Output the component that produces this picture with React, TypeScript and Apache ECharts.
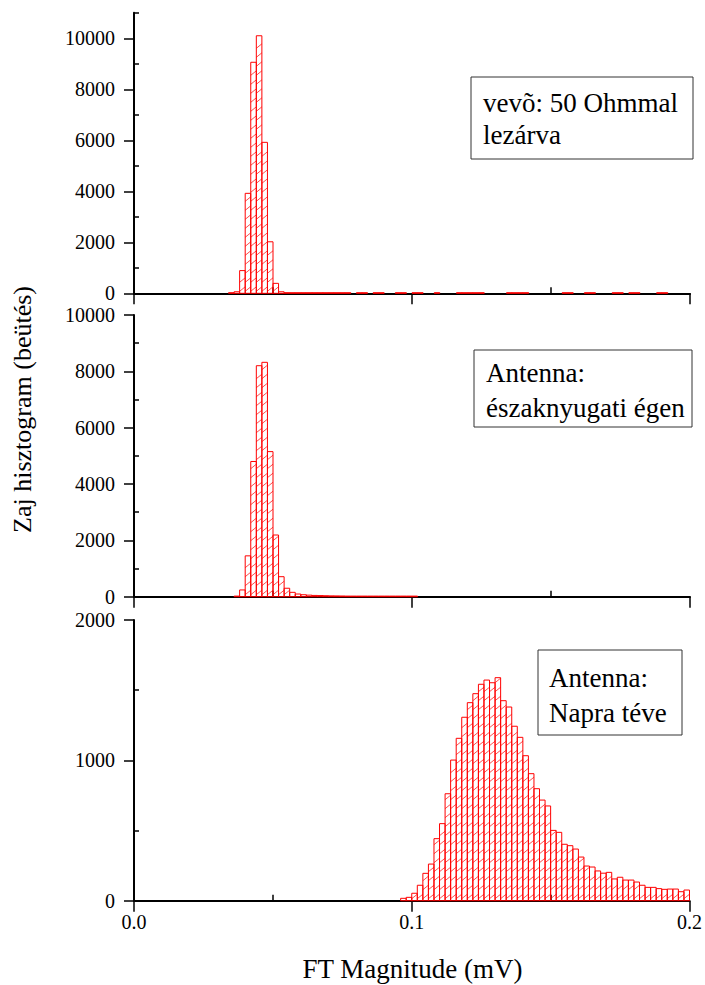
import React, { useEffect, useRef } from "react";
import * as echarts from "echarts";

// ---- data ----
const BIN_WIDTH = 0.002;
const X_MAJOR = [0, 0.1, 0.2];
const X_MINOR = [0.05, 0.15];
const Y1_MAJOR = [0, 2000, 4000, 6000, 8000, 10000];
const Y1_MINOR = [1000, 3000, 5000, 7000, 9000, 11000];
const Y2_MAJOR = [0, 2000, 4000, 6000, 8000, 10000];
const Y2_MINOR = [1000, 3000, 5000, 7000, 9000];
const Y3_MAJOR = [0, 1000, 2000];
const Y3_MINOR = [500, 1500];

// panel 1: vevõ 50 Ohmmal lezárva (bins start at 0.034)
const P1_START = 0.034;
const P1_COUNTS = [
  20, 60, 890, 3920, 9060, 10100, 5920, 2020, 390, 60,
  25, 20, 15, 12, 10, 10, 8, 8, 6, 6,
  5, 5, 0, 4, 4, 0, 4, 4, 0, 0,
  4, 4, 0, 4, 4, 0, 0, 4, 0, 0,
  0, 4, 4, 4, 4, 4, 0, 0, 0, 0,
  4, 4, 4, 4, 0, 0, 0, 0, 0, 0,
  4, 4, 0, 0, 4, 4, 0, 0, 0, 4,
  4, 0, 4, 4, 0, 0, 0, 4, 4,
];

// panel 2: Antenna északnyugati égen (bins start at 0.036)
const P2_START = 0.036;
const P2_COUNTS = [
  20, 240, 1450, 4800, 8200, 8320, 5150, 2190, 710, 300,
  155, 95, 70, 55, 45, 40, 35, 30, 28, 25,
  22, 20, 18, 16, 14, 12, 10, 9, 8, 7,
  6, 5, 4,
];

// panel 3: Antenna Napra téve (bins start at 0.096)
const P3_START = 0.096;
const P3_COUNTS = [
  17, 24, 53, 110, 195, 261, 442, 549, 762, 1002,
  1157, 1307, 1411, 1475, 1542, 1572, 1553, 1589, 1425, 1380,
  1243, 1164, 1033, 905, 798, 717, 675, 501, 487, 402,
  392, 368, 311, 247, 240, 212, 196, 202, 155, 167,
  147, 147, 133, 110, 95, 95, 86, 81, 83, 83,
  64, 76,
];

const LEGEND_1 = ["vevõ: 50 Ohmmal", "lezárva"];
const LEGEND_2 = ["Antenna:", "északnyugati égen"];
const LEGEND_3 = ["Antenna:", "Napra téve"];
const X_TITLE = "FT Magnitude (mV)";
const Y_TITLE = "Zaj hisztogram (beütés)";

const RED = "#ff0000";
const FONT = '"Liberation Serif", "Times New Roman", "DejaVu Serif", serif';

function toData(start: number, counts: number[]) {
  return counts.map((c, i) => [start + i * BIN_WIDTH, c]);
}

function renderBar(params: any, api: any) {
  const x0 = api.value(0) as number;
  const v = api.value(1) as number;
  if (!v) return null;
  const a = api.coord([x0, 0]);
  const b = api.coord([x0 + BIN_WIDTH, v]);
  const left = a[0];
  const right = b[0];
  const bottom = a[1];
  const top = b[1];
  const h = Math.max(bottom - top, 0.6);
  const children: any[] = [
    {
      type: "rect",
      shape: { x: left, y: bottom - h, width: right - left, height: h },
      style: { fill: "rgba(255,255,255,0)", stroke: RED, lineWidth: 1 },
    },
  ];
  const RISE = 4.5;
  const STEP = 9;
  for (let y = bottom - 2; y - RISE > top + 0.5; y -= STEP) {
    children.push({
      type: "line",
      shape: { x1: left, y1: y, x2: right, y2: y - RISE },
      style: { stroke: RED, lineWidth: 0.7 },
    });
  }
  return { type: "group", children };
}

function legendBox(x: number, y: number, w: number, h: number, lines: string[], tx: number, ty: number[]) {
  return {
    type: "group",
    children: [
      {
        type: "rect",
        shape: { x, y, width: w, height: h },
        style: { fill: "#fff", stroke: "#333", lineWidth: 1 },
        z: 10,
      },
      ...lines.map((t, i) => ({
        type: "text",
        x: tx,
        y: ty[i],
        z: 11,
        style: {
          text: t,
          font: `27px ${FONT}`,
          fill: "#000",
          textAlign: "left",
          textVerticalAlign: "middle",
        },
      })),
    ],
  };
}

const App: React.FC = () => {
  const ref = useRef<HTMLDivElement>(null);
  useEffect(() => {
    if (!ref.current) return;
    const chart = echarts.init(ref.current, undefined, { renderer: "svg" });

    const grids = [
      { left: 134, width: 556, top: 12.8, height: 280.5 },
      { left: 134, width: 556, top: 315, height: 281.7 },
      { left: 134, width: 556, top: 620, height: 280.7 },
    ];

    const axisLine = { show: true, lineStyle: { color: "#000", width: 2 } };
    const xAxes: any[] = [];
    const yAxes: any[] = [];
    const yMax = [11000, 10000, 2000];
    const yMaj = [Y1_MAJOR, Y2_MAJOR, Y3_MAJOR];
    const yMin = [Y1_MINOR, Y2_MINOR, Y3_MINOR];
    for (let g = 0; g < 3; g++) {
      xAxes.push({
        type: "value",
        gridIndex: g,
        min: 0,
        max: 0.2,
        interval: 0.1,
        axisLine,
        axisTick: { show: true, customValues: X_MAJOR, length: 11, lineStyle: { color: "#000", width: 1.5 } },
        axisLabel: {
          show: g === 2,
          customValues: X_MAJOR,
          formatter: (v: number) => v.toFixed(1),
          color: "#000",
          fontFamily: FONT,
          fontSize: 20,
          margin: 11,
        },
        splitLine: { show: false },
      });
      xAxes.push({
        type: "value",
        gridIndex: g,
        min: 0,
        max: 0.2,
        interval: 0.1,
        axisLine: { show: false },
        axisTick: { show: true, customValues: X_MINOR, length: 6, lineStyle: { color: "#000", width: 1.5 } },
        axisLabel: { show: false },
        splitLine: { show: false },
      });
      yAxes.push({
        type: "value",
        gridIndex: g,
        min: 0,
        max: yMax[g],
        axisLine,
        axisTick: { show: true, customValues: yMaj[g], length: 10, lineStyle: { color: "#000", width: 1.5 } },
        axisLabel: {
          show: true,
          customValues: yMaj[g],
          formatter: (v: number) => String(Math.round(v)),
          color: "#000",
          fontFamily: FONT,
          fontSize: 20,
          margin: 19,
        },
        splitLine: { show: false },
      });
      yAxes.push({
        type: "value",
        gridIndex: g,
        min: 0,
        max: yMax[g],
        axisLine: { show: false },
        axisTick: { show: true, customValues: yMin[g], length: 5, lineStyle: { color: "#000", width: 1.5 } },
        axisLabel: { show: false },
        splitLine: { show: false },
      });
    }

    const datasets = [
      toData(P1_START, P1_COUNTS),
      toData(P2_START, P2_COUNTS),
      toData(P3_START, P3_COUNTS),
    ];

    chart.setOption({
      animation: false,
      backgroundColor: "#fff",
      grid: grids,
      xAxis: xAxes,
      yAxis: yAxes,
      series: datasets.map((d, g) => ({
        type: "custom",
        xAxisIndex: 2 * g,
        yAxisIndex: 2 * g,
        renderItem: renderBar,
        encode: { x: 0, y: 1 },
        data: d,
        z: 3,
      })),
      graphic: [
        legendBox(471, 77, 222, 82, LEGEND_1, 483, [103, 135]),
        legendBox(474, 350, 218, 77, LEGEND_2, 486, [373, 408]),
        legendBox(538, 650, 144, 85, LEGEND_3, 549, [678, 713]),
        {
          type: "text",
          x: 412.5,
          y: 969,
          style: {
            text: X_TITLE,
            font: `27px ${FONT}`,
            fill: "#000",
            textAlign: "center",
            textVerticalAlign: "middle",
          },
        },
        {
          type: "text",
          x: 22,
          y: 409.5,
          rotation: Math.PI / 2,
          style: {
            text: Y_TITLE,
            font: `26px ${FONT}`,
            fill: "#000",
            textAlign: "center",
            textVerticalAlign: "middle",
          },
        },
      ],
    });

    return () => chart.dispose();
  }, []);

  return (
    <div
      ref={ref}
      style={{ position: "absolute", left: 0, top: 0, width: 705, height: 985, background: "#fff" }}
    />
  );
};

export default App;
